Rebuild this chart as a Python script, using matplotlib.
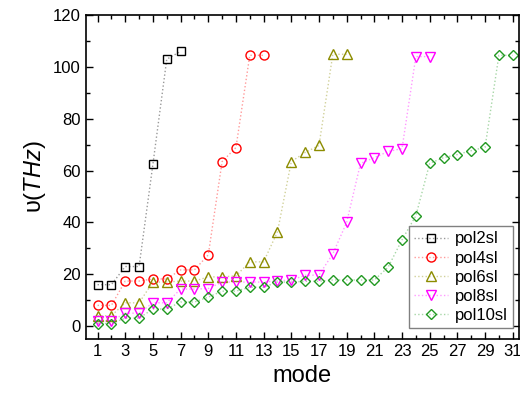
import numpy as np
import matplotlib
matplotlib.use("Agg")
import matplotlib.pyplot as plt
from matplotlib.colors import to_rgba
from matplotlib.ticker import MultipleLocator

plt.rcParams['font.family'] = ['Liberation Sans', 'DejaVu Sans']
plt.rcParams['mathtext.fontset'] = 'custom'
plt.rcParams['mathtext.rm'] = 'Liberation Sans'
plt.rcParams['mathtext.it'] = 'Liberation Sans:italic'

# frequencies (THz) per mode
pol2sl = [16, 16, 23, 23, 62.5, 103, 106]
pol4sl = [8, 8, 17.4, 17.4, 18.2, 18.2, 21.7, 21.7, 27.5, 63.5, 68.9, 104.5, 104.5]
pol6sl = [4, 4, 9, 9, 17, 17, 17.4, 17.4, 19, 19, 19.4, 24.8, 24.8, 36.4,
          63.5, 67, 69.7, 104.9, 104.9]
pol8sl = [2, 2, 5, 5, 9, 9, 14.3, 14.3, 14.5, 17, 17, 17, 17, 17.5, 17.8,
          19.6, 19.7, 27.9, 40, 62.8, 65, 67.4, 68.5, 104, 104]
pol10sl = [1, 1, 3.1, 3.1, 6.6, 6.6, 9.3, 9.3, 11.2, 13.5, 13.5, 15, 15, 17, 17,
           17.3, 17.3, 17.8, 17.8, 17.8, 17.8, 22.8, 33.3, 42.6, 62.8, 65, 66.2,
           67.7, 69, 104.5, 104.5]

series = [
    ('pol2sl', pol2sl, 's', '#000000', 5.5),
    ('pol4sl', pol4sl, 'o', '#ff0000', 6.5),
    ('pol6sl', pol6sl, '^', '#8c8c00', 6.5),
    ('pol8sl', pol8sl, 'v', '#ff00ff', 6.5),
    ('pol10sl', pol10sl, 'D', '#229922', 5),
]

fig = plt.figure(figsize=(5.2, 3.98), dpi=100)
ax = fig.add_axes([0.165, 0.148, 0.833, 0.814])

for name, vals, mk, col, ms in series:
    modes = np.arange(1, len(vals) + 1)
    ax.plot(modes, vals, linestyle=':', color=to_rgba(col, 0.4), linewidth=1,
            marker=mk, markersize=ms, markerfacecolor='none',
            markeredgecolor=col, markeredgewidth=1.0, label=name)

ax.set_xlim(0.15, 31.45)
ax.set_ylim(-5, 120)
ax.set_xticks(np.arange(1, 32, 2))
ax.xaxis.set_minor_locator(MultipleLocator(1))
ax.yaxis.set_major_locator(MultipleLocator(20))
ax.yaxis.set_minor_locator(MultipleLocator(10))
ax.tick_params(which='both', direction='in', top=True, right=True, labelsize=12)
ax.tick_params(which='major', length=5, width=1)
ax.tick_params(which='minor', length=3, width=1)
for sp in ax.spines.values():
    sp.set_linewidth(1.2)

ax.set_xlabel('mode', fontsize=17)
ax.set_ylabel(r'υ($\mathit{THz}$)', fontsize=17)

ax.legend(loc='lower right', fontsize=12, fancybox=False, edgecolor='#808080',
          framealpha=1, borderpad=0.3, labelspacing=0.25, handlelength=2.0,
          handletextpad=0.45, borderaxespad=0, bbox_to_anchor=(0.986, 0.034))

fig.savefig('out.png', dpi=100)
